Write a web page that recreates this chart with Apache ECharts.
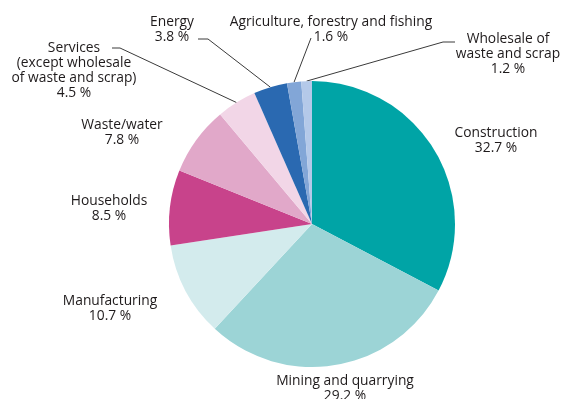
<!DOCTYPE html>
<html>
<head>
<meta charset="utf-8">
<script src="https://cdn.jsdelivr.net/npm/echarts@6/dist/echarts.min.js"></script>
<style>
  html, body { margin: 0; padding: 0; background: #ffffff; }
  #chart { width: 562px; height: 399px; }
</style>
</head>
<body>
<div id="chart"></div>
<script>
// Waste generation by economic activity (share of total, %)
const categories = [
  'Construction',
  'Mining and quarrying',
  'Manufacturing',
  'Households',
  'Waste/water',
  'Services\n(except wholesale\nof waste and scrap)',
  'Energy',
  'Agriculture, forestry and fishing',
  'Wholesale of\nwaste and scrap'
];
const shares = [32.7, 29.2, 10.7, 8.5, 7.8, 4.5, 3.8, 1.6, 1.2];
const sliceColors = [
  '#00a4a6', '#9cd4d6', '#d3ebed', '#c8438b', '#e1a8c9',
  '#f2d6e7', '#2a69b1', '#82a6d7', '#b4c9e9'
];

// Label anchor (centre x, top y) and leader line bends, per slice
const labelAnchors = [
  [496, 126], [345, 374], [110, 294], [109, 194], [122, 118],
  [74, 41], [172, 15], [331, 15], [508, 32]
];
const leaderBends = [
  null, null, null, null, null,
  [[120, 48], [112, 48]],
  [[208, 39], [198, 39]],
  [[311, 38], [311, 38]],
  [[443, 42], [455, 42]]
];

const chart = echarts.init(document.getElementById('chart'));
chart.setOption({
  animation: false,
  series: [{
    type: 'pie',
    center: [312, 224],
    radius: [0, 143],
    startAngle: 90,
    clockwise: true,
    avoidLabelOverlap: false,
    itemStyle: { borderWidth: 0 },
    label: {
      show: true,
      position: 'outside',
      color: '#1e1a1b',
      fontFamily: 'Open Sans',
      fontSize: 13.8,
      lineHeight: 15,
      align: 'center',
      formatter: p => p.name + '\n' + p.value.toFixed(1) + ' %'
    },
    labelLine: {
      show: true,
      lineStyle: { color: '#3a3a3a', width: 1 }
    },
    labelLayout: params => {
      const i = params.dataIndex;
      const out = {
        x: labelAnchors[i][0],
        y: labelAnchors[i][1],
        align: 'center',
        verticalAlign: 'top'
      };
      if (leaderBends[i]) {
        out.labelLinePoints = [params.labelLinePoints[0]].concat(leaderBends[i]);
      }
      return out;
    },
    data: categories.map((name, i) => ({
      name: name,
      value: shares[i],
      itemStyle: { color: sliceColors[i] },
      labelLine: { show: leaderBends[i] !== null }
    }))
  }]
});
</script>
</body>
</html>
